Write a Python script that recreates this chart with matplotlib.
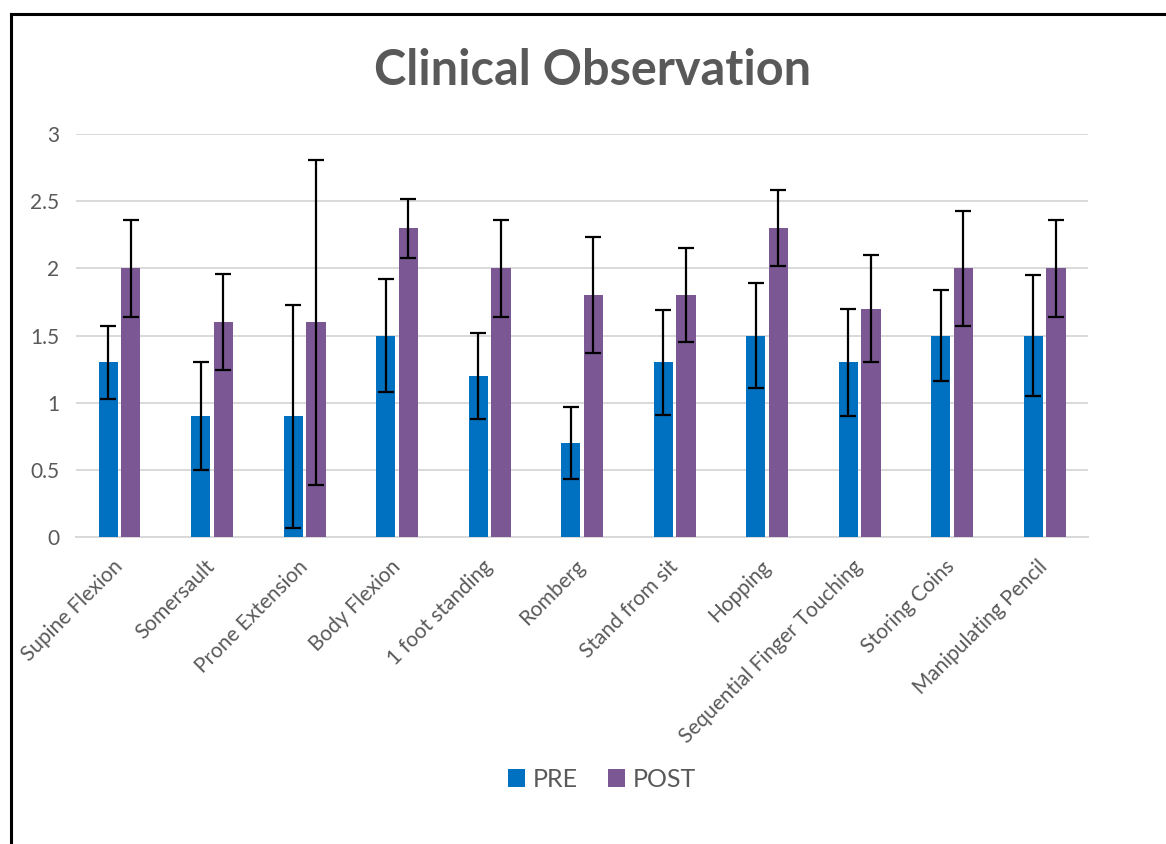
import numpy as np
import matplotlib
matplotlib.use('Agg')
from matplotlib import pyplot as plt
from matplotlib.lines import Line2D

plt.rcParams['font.family'] = ['Lato', 'DejaVu Sans']

categories = ['Supine Flexion', 'Somersault', 'Prone Extension', 'Body Flexion',
              '1 foot standing', 'Romberg', 'Stand from sit', 'Hopping',
              'Sequential Finger Touching', 'Storing Coins', 'Manipulating Pencil']
pre = [1.3, 0.9, 0.9, 1.5, 1.2, 0.7, 1.3, 1.5, 1.3, 1.5, 1.5]
post = [2.0, 1.6, 1.6, 2.3, 2.0, 1.8, 1.8, 2.3, 1.7, 2.0, 2.0]
pre_err = [0.27, 0.40, 0.83, 0.42, 0.32, 0.27, 0.39, 0.39, 0.40, 0.34, 0.45]
post_err = [0.36, 0.36, 1.21, 0.22, 0.36, 0.43, 0.35, 0.28, 0.40, 0.43, 0.36]

pre_color = '#0070C0'
post_color = '#7B5893'
text_color = '#595959'
grid_color = '#D9D9D9'

fig = plt.figure(figsize=(11.66, 8.44), dpi=100)
ax = fig.add_axes([0.0652, 0.3637, 0.8679, 0.4775])

x = np.arange(len(categories))
width = 0.21
err_kw = dict(ecolor='black', elinewidth=1.6, capsize=6, capthick=1.6)
ax.bar(x - 0.122, pre, width, yerr=pre_err, color=pre_color, label='PRE',
       error_kw=err_kw, zorder=3)
ax.bar(x + 0.122, post, width, yerr=post_err, color=post_color, label='POST',
       error_kw=err_kw, zorder=3)

ax.set_xlim(-0.47, 10.47)
ax.set_ylim(0, 3)
ax.set_yticks([0, 0.5, 1, 1.5, 2, 2.5, 3])
ax.set_yticklabels(['0', '0.5', '1', '1.5', '2', '2.5', '3'])
ax.set_xticks(x)
ax.set_xticklabels(categories, rotation=45, ha='right', va='center',
                   rotation_mode='anchor')
ax.tick_params(axis='x', length=0, pad=19, labelsize=15, labelcolor=text_color)
ax.tick_params(axis='y', length=0, pad=12, labelsize=15, labelcolor=text_color)
ax.grid(axis='y', color=grid_color, linewidth=1.4, zorder=0)
for s in ['top', 'right', 'left']:
    ax.spines[s].set_visible(False)
ax.spines['bottom'].set_color(grid_color)
ax.spines['bottom'].set_linewidth(1.4)

fig.text(0.508, 0.916, 'Clinical Observation', ha='center', va='center',
         fontsize=35, fontweight='bold', color=text_color)

fig.legend(loc='center', bbox_to_anchor=(0.516, 0.077), ncol=2, frameon=False,
           fontsize=18, labelcolor=text_color, handlelength=0.7, handleheight=0.7,
           handletextpad=0.3, columnspacing=1.2)

# outer frame lines (left and top)
fig.add_artist(Line2D([10.5 / 1166, 10.5 / 1166], [0, 1 - 13.5 / 844],
                      transform=fig.transFigure, color='black', linewidth=2.2))
fig.add_artist(Line2D([10.5 / 1166, 1], [1 - 13.5 / 844, 1 - 13.5 / 844],
                      transform=fig.transFigure, color='black', linewidth=2.2))

plt.savefig('out.png', dpi=100)
